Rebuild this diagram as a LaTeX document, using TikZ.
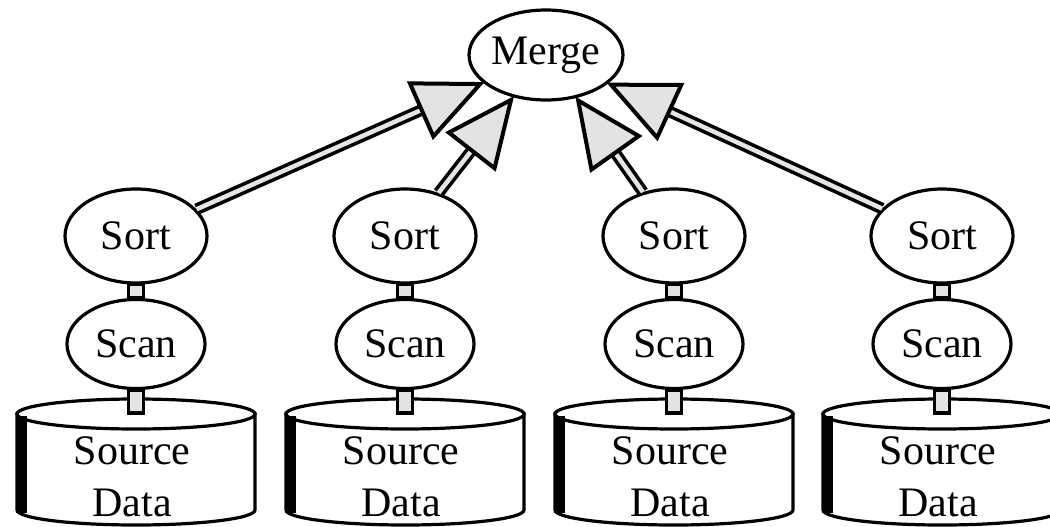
\documentclass[tikz,border=0pt]{standalone}
\usepackage{fontspec}
\setmainfont{Liberation Serif}
\usetikzlibrary{shapes.geometric, calc, decorations.markings, backgrounds}

\begin{document}
\begin{tikzpicture}[x=1pt, y=-1pt,
  every node/.style={font=\fontsize{42}{52}\selectfont},
  op/.style={ellipse, draw, line width=3.2pt, fill=white, inner sep=0pt},
  mergeop/.style={op, minimum width=135pt, minimum height=90pt},
  sortop/.style={op, minimum width=142pt, minimum height=94pt},
  scanop/.style={op, minimum width=138pt, minimum height=89pt},
  dbtext/.style={align=center, inner sep=0pt},
  outline/.style={line width=3.2pt},
  bar/.style={line width=3.2pt, fill=gray!22},
  shaft/.style={line width=3.6pt, double=gray!20, double distance=4.5pt, shorten >=58pt},
  head/.style={postaction={decorate, decoration={markings,
      mark=at position 1 with {\draw[line width=4pt, fill=gray!22, line join=miter]
        (-3pt,0pt) -- (-67pt,29pt) -- (-67pt,-29pt) -- cycle;}}}}
]
\useasboundingbox (0,0) rectangle (1050,527);

% operators
\node[mergeop] (merge) at (546,55) {Merge};
\foreach \i/\cx in {1/136,2/405,3/674,4/942} {
  \node[sortop] (sort\i) at (\cx,236) {Sort};
  \node[scanop] (scan\i) at (\cx,344) {Scan};
  \coordinate (top\i) at (\cx,413);
}

\begin{pgfonlayer}{background}
  % disk cylinders
  \foreach \cx in {136,405,674,942} {
    \filldraw[outline, fill=white] (\cx-119,414) -- (\cx-119,510)
      arc[start angle=180, end angle=0, x radius=119, y radius=15]
      -- (\cx+119,414) -- cycle;
    \filldraw[outline, fill=white] (\cx,414) ellipse[x radius=119, y radius=15];
    \fill (\cx-120,416) rectangle (\cx-109,513);
  }
  % pipes between operators
  \foreach \i in {1,...,4} {
    \draw[bar] ([xshift=-7.5pt]sort\i.south) rectangle ([xshift=7.5pt]scan\i.north);
    \draw[bar] ([xshift=-7.5pt]scan\i.south) rectangle ([xshift=7.5pt]top\i);
  }
\end{pgfonlayer}

% data labels
\foreach \i/\cx in {1/136,2/405,3/674,4/942} {
  \node[dbtext] (data\i) at (\cx-4,477) {Source\\Data};
}

% streams into the merge: shafts, then hollow heads
\foreach \i in {1,...,4} {
  \draw[shaft] (sort\i) -- (merge);
}
\foreach \i in {1,...,4} {
  \path[head] (sort\i) -- (merge);
}
\end{tikzpicture}
\end{document}
